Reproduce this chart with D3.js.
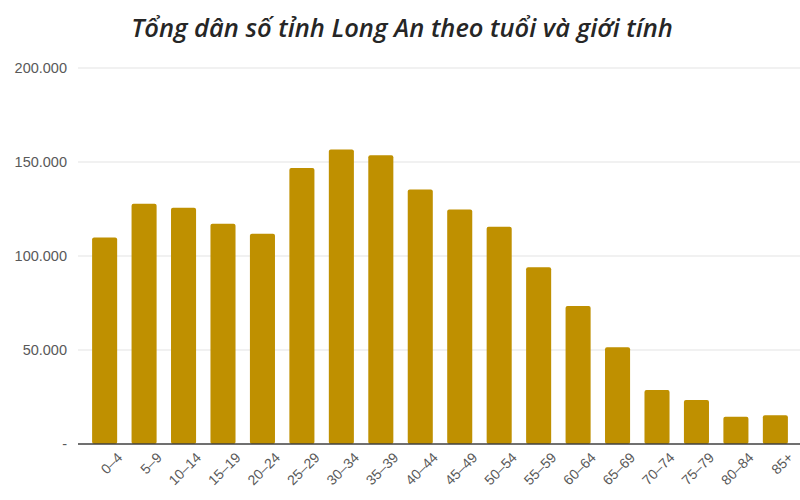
<!DOCTYPE html>
<html>
<head>
<meta charset="utf-8">
<script src="https://cdn.jsdelivr.net/npm/d3@7"></script>
<style>
  body { margin: 0; background: #fff; }
  svg { font-family: "Open Sans", sans-serif; }
</style>
</head>
<body>
<div id="container"></div>
<script>
/* DATA */
const title = "Tổng dân số tỉnh Long An theo tuổi và giới tính";
const ageGroups = ["0–4", "5–9", "10–14", "15–19", "20–24", "25–29", "30–34", "35–39", "40–44",
  "45–49", "50–54", "55–59", "60–64", "65–69", "70–74", "75–79", "80–84", "85+"];
const population = [109800, 127800, 125600, 117200, 111800, 146800, 156600, 153600, 135400,
  124800, 115500, 94000, 73400, 51400, 28700, 23400, 14500, 15300];
const yTicks = [0, 50000, 100000, 150000, 200000];

/* CONSTANTS */
const width = 800;
const height = 500;
const margin = {top: 68, right: 5, bottom: 56, left: 78};

const svg = d3.select("#container")
  .append("svg")
  .attr("width", width)
  .attr("height", height);

/* SCALES */
const xScale = d3.scaleBand()
  .domain(ageGroups)
  .range([85, width - margin.right])
  .paddingInner(0.365)
  .paddingOuter(0.18);

const yScale = d3.scaleLinear()
  .domain([0, 200000])
  .range([height - margin.bottom, margin.top]);

// 110.000 style labels, dash for zero
const fmt = d => d === 0 ? "-" : d3.format(",")(d).replace(/,/g, ".");

// gridlines
svg.append("g")
  .selectAll("line")
  .data(yTicks.filter(d => d > 0))
  .join("line")
  .attr("x1", margin.left)
  .attr("x2", width)
  .attr("y1", d => yScale(d))
  .attr("y2", d => yScale(d))
  .attr("stroke", "#e3e3e3")
  .attr("stroke-width", 1.2);

// y axis
const yAxis = d3.axisLeft(yScale).tickValues(yTicks).tickFormat(fmt).tickSize(0).tickPadding(11);
svg.append("g")
  .attr("transform", `translate(${margin.left},0)`)
  .call(yAxis)
  .call(g => g.select(".domain").remove())
  .selectAll("text")
  .attr("font-size", 14.5)
  .attr("fill", "#595959");

// bars
svg.selectAll("rect.bar")
  .data(population)
  .join("rect")
  .attr("class", "bar")
  .attr("x", (d, i) => xScale(ageGroups[i]))
  .attr("y", d => yScale(d))
  .attr("width", xScale.bandwidth())
  .attr("height", d => yScale(0) - yScale(d))
  .attr("rx", 2)
  .attr("fill", "#bf9000");

// x axis
const xAxis = d3.axisBottom(xScale).tickSize(0).tickPadding(8);
svg.append("g")
  .attr("transform", `translate(0,${yScale(0)})`)
  .call(xAxis)
  .call(g => g.select(".domain").remove())
  .selectAll("text")
  .attr("font-size", 14)
  .attr("fill", "#595959")
  .attr("text-anchor", "end")
  .attr("transform", "translate(4,0) rotate(-45)")
  .attr("dx", "0")
  .attr("dy", "0.9em");

svg.append("line")
  .attr("x1", margin.left)
  .attr("x2", width)
  .attr("y1", yScale(0))
  .attr("y2", yScale(0))
  .attr("stroke", "#404040")
  .attr("stroke-width", 1.3);

// title
svg.append("text")
  .attr("x", 402)
  .attr("y", 37)
  .attr("text-anchor", "middle")
  .attr("font-size", 25.5)
  .attr("font-style", "italic")
  .attr("font-weight", 600)
  .attr("fill", "#262626")
  .text(title);
</script>
</body>
</html>
